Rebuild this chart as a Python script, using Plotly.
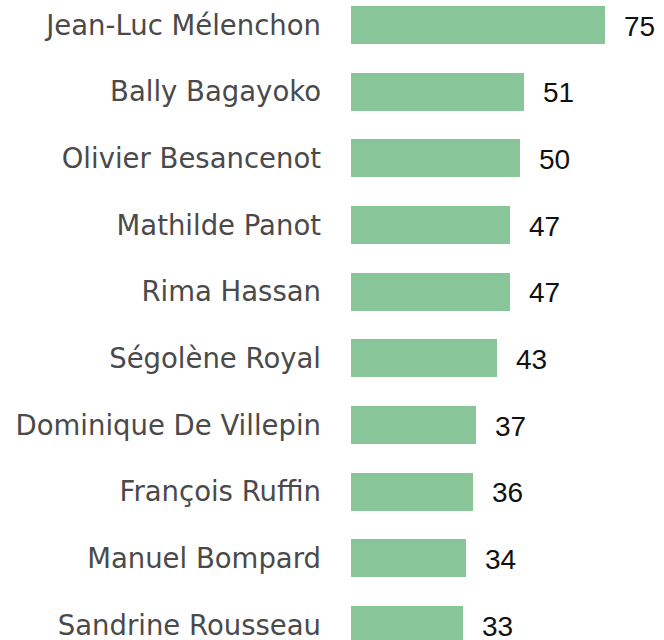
import plotly.graph_objects as go

# Names top to bottom and their scores
names = ['Jean-Luc Mélenchon', 'Bally Bagayoko', 'Olivier Besancenot', 'Mathilde Panot',
         'Rima Hassan', 'Ségolène Royal', 'Dominique De Villepin', 'François Ruffin',
         'Manuel Bompard', 'Sandrine Rousseau']
scores = [75, 51, 50, 47, 47, 43, 37, 36, 34, 33]

fig = go.Figure()

fig.add_trace(go.Bar(
    x=scores,
    y=names,
    orientation='h',
    marker=dict(color='#88C69A', line=dict(width=0)),
    width=0.57,
    hoverinfo='x+y',
))

# value labels to the right of each bar
for n, v in zip(names, scores):
    fig.add_annotation(
        x=v, y=n, text=str(v), showarrow=False,
        xanchor='left', yanchor='middle', xshift=17, yshift=-1,
        font=dict(family='Liberation Sans', size=28, color='#111111'),
    )

fig.update_layout(
    width=664, height=640,
    margin=dict(l=351, r=0, t=0, b=0, autoexpand=False),
    paper_bgcolor='white',
    plot_bgcolor='white',
    showlegend=False,
    bargap=0,
)
fig.update_xaxes(range=[0, 92.4], visible=False, showgrid=False, zeroline=False)
fig.update_yaxes(
    range=[9.225, -0.375],
    showgrid=False, zeroline=False, showline=False,
    ticks='', ticklabelstandoff=29,
    tickfont=dict(family='DejaVu Sans', size=27.5, color='#4a4a4a'),
    automargin=False,
)

# drop the default page margin so the figure sits flush in the window
fig.write_html('out.html', config={'displayModeBar': False},
               post_script="document.body.style.margin='0';")
